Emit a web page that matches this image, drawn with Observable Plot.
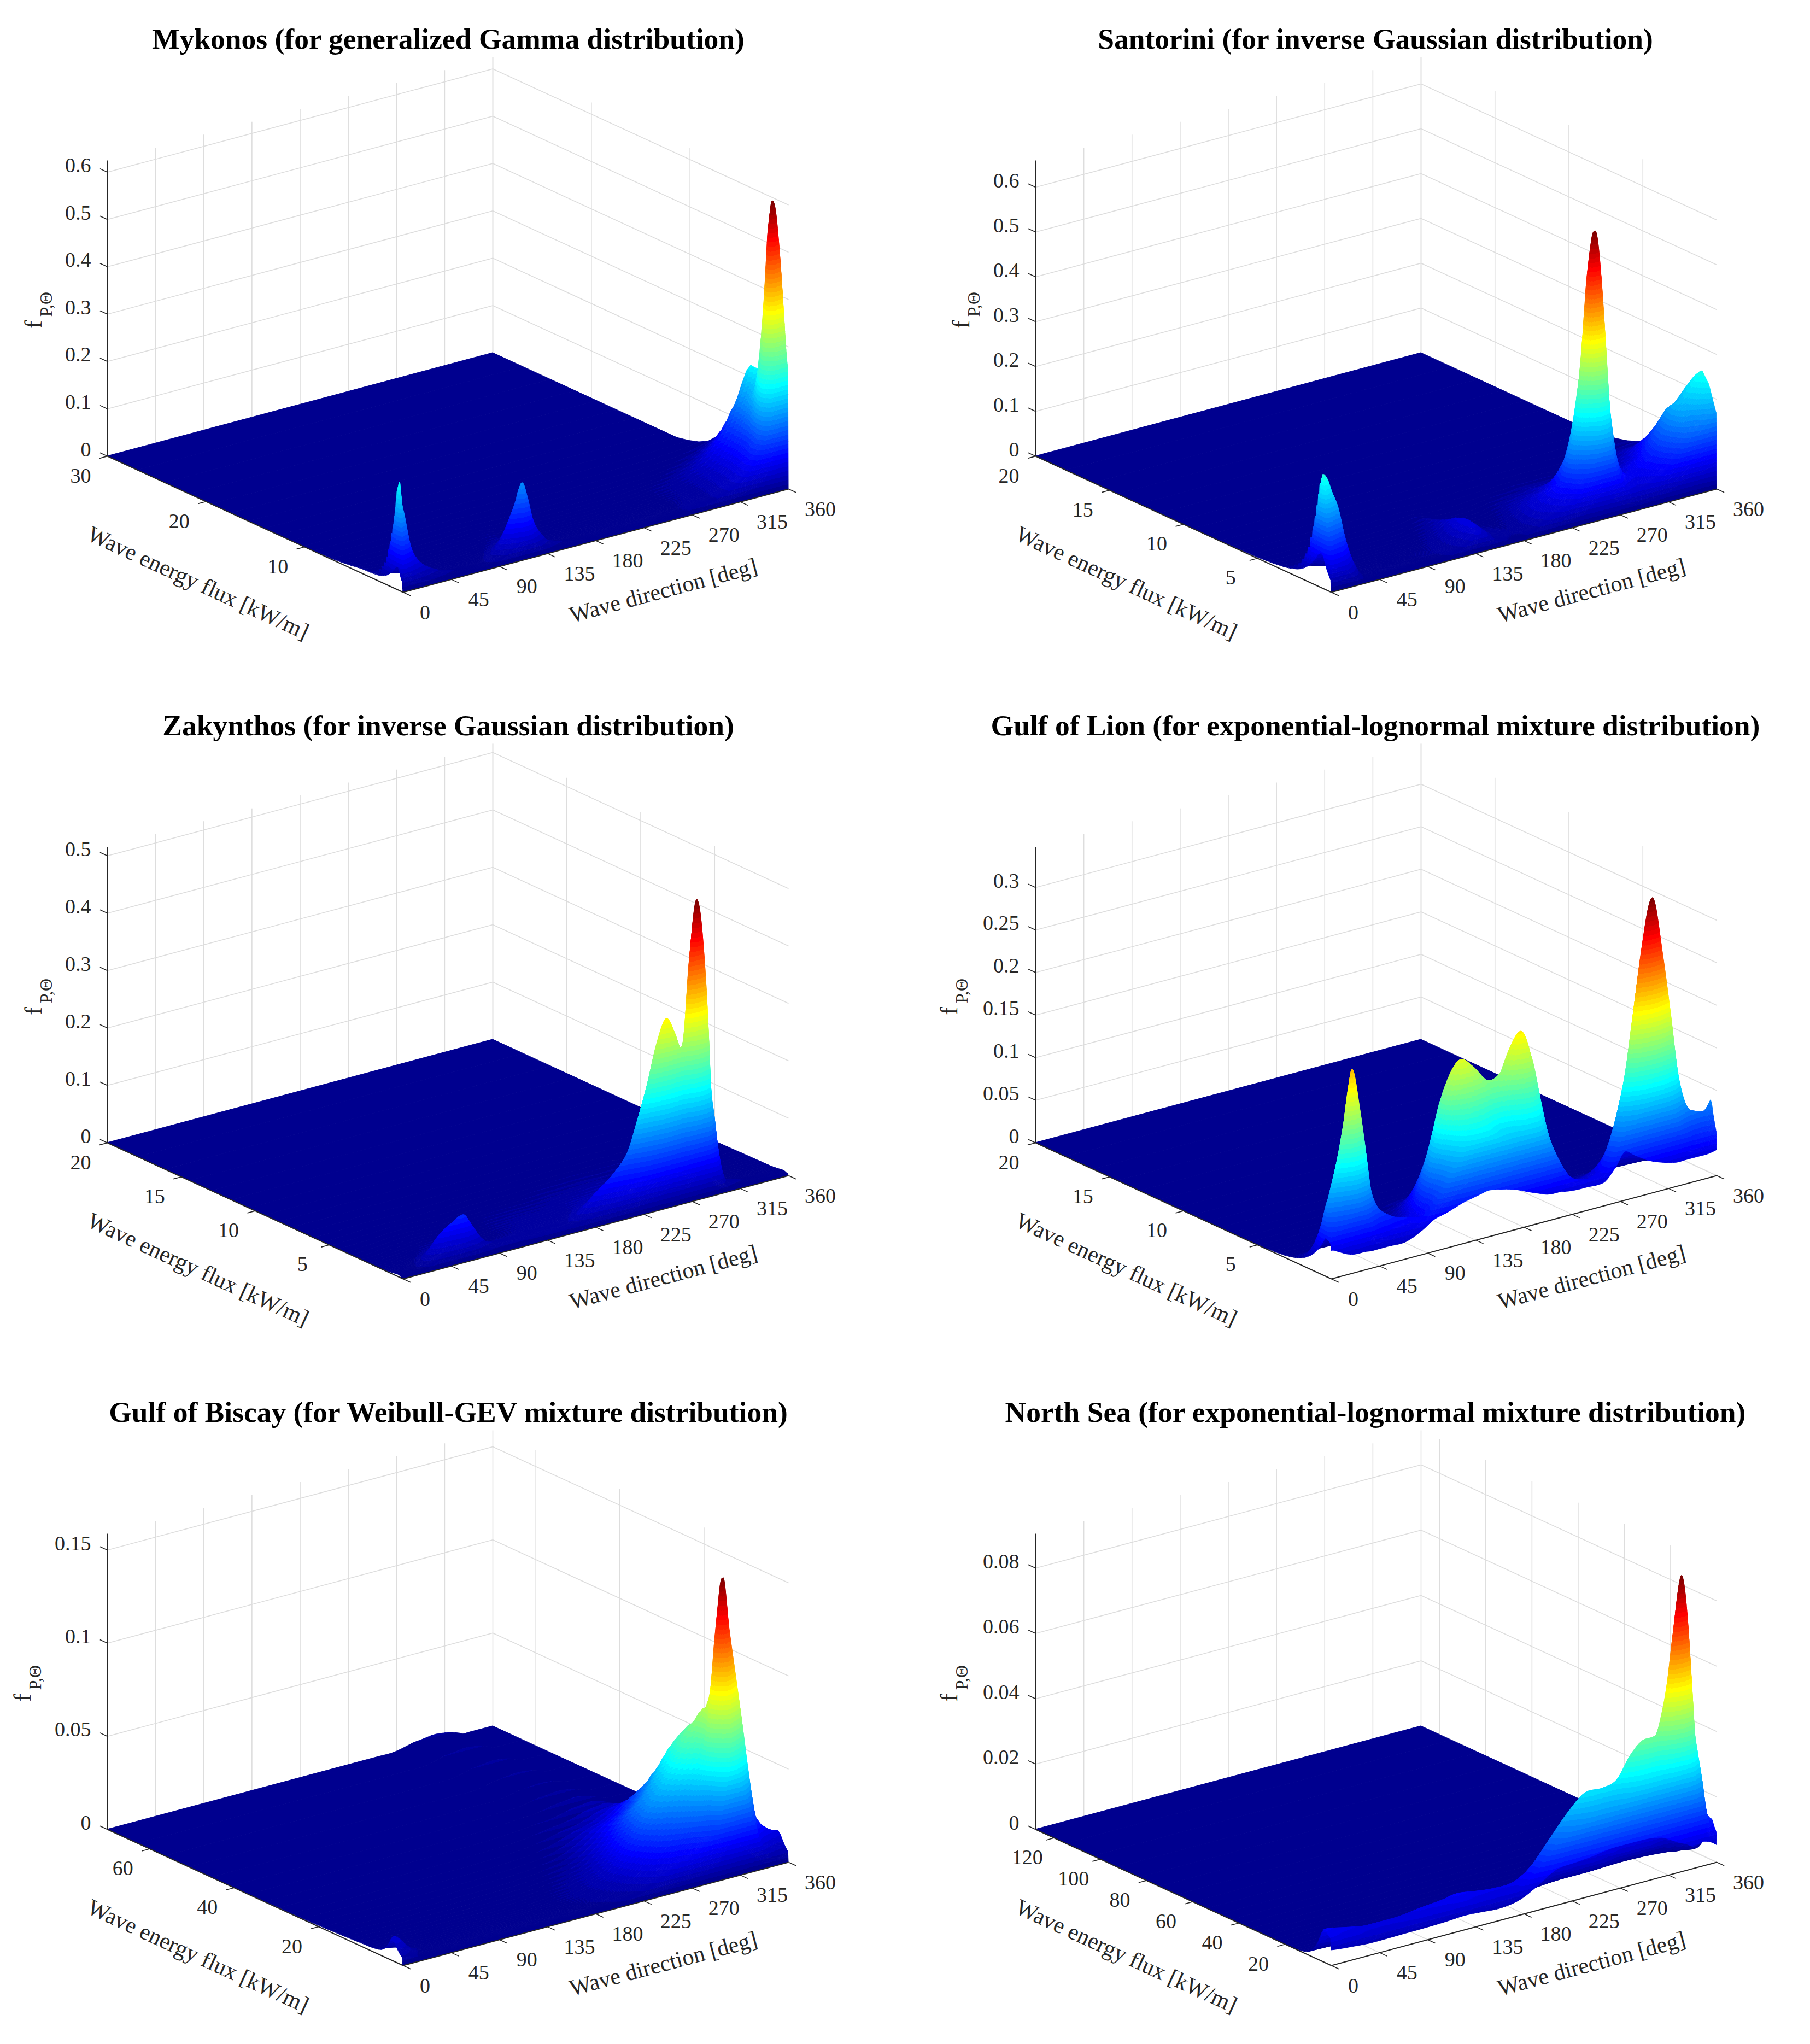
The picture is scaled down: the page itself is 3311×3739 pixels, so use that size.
<!DOCTYPE html>
<html><head><meta charset="utf-8">
<script src="https://cdn.jsdelivr.net/npm/d3@7"></script>
<script src="https://cdn.jsdelivr.net/npm/@observablehq/plot@0.6"></script>
<style>
html,body{margin:0;padding:0;background:#fff}
#page{position:relative;width:3311px;height:3739px;overflow:hidden;background:#fff}
.panel{position:absolute;width:1655px;height:1227px}
.panel h2{position:absolute;margin:0;top:38px;transform:translateX(-50%);white-space:nowrap;z-index:2;
 font:bold 53.5px/66px "Liberation Serif",serif;color:#000}
</style></head><body><div id="page"></div>
<script>
// ---- tick values
const directionTicks=[0,45,90,135,180,225,270,315,360];
// ---- Mykonos
const mykonosDirs=[0,1.5,3,6,11,19,32,45,60,80,90,98,106,112,116,121,125,130,135,140,150,170,200,230,250,270,285,295,305,315,325,332,338,341,345,347.5,350,352.5,355,357.5,360];
const mykonosNear=[.04,.22,.185,.15,.09,.05,.025,.012,.006,.006,.02,.045,.084,.119,.149,.113,.073,.045,.03,.018,.01,.004,.002,.002,.002,.002,.002,.002,.003,.005,.01,.02,.05,.15,.3,.45,.47,.44,.37,.28,.155];
const mykonosMid=[.01,.01,.008,.006,.004,.002,.001,.001,.001,.002,.004,.006,.008,.01,.01,.01,.008,.006,.004,.002,.001,.001,.001,.002,.004,.01,.015,.02,.03,.04,.06,.08,.1,.11,.13,.145,.16,.17,.185,.2,.225];
// ---- Santorini
const santoriniDirs=[0,1.5,5,9,15.6,20,30,37,50,70,90,110,126,133,139,146,158,175,190,202,219,230,234,237.7,241.6,247,249.7,255.2,260.5,263.5,266.8,270,274,282,290,301,315,326,334,343,352,360];
const santoriniNear=[.06,.238,.23,.205,.16,.11,.03,.005,.002,.002,.002,.002,.002,.002,.002,.002,.002,.002,.002,.002,.01,.05,.09,.13,.22,.36,.48,.57,.47,.35,.2,.12,.06,.02,.005,0,0,0,0,0,0,0];
const santoriniMid=[.02,.02,.015,.01,.008,.005,.004,.003,.004,.006,.008,.012,.03,.045,.058,.045,.018,.01,.02,.04,.06,.07,.08,.08,.08,.08,.08,.08,.08,.08,.08,.08,.07,.06,.06,.072,.098,.145,.186,.2,.227,.25];
// ---- Zakynthos
const zakynthosDirs=[0,10,20,30,38.6,50,61,68,76,85,100,120,140,160,188.6,204,217,225,232.6,241.6,251,258,264,269,273,279,285,289,291,295,298,302,307,320,340,360];
const zakynthosNear=[.004,.005,.01,.03,.05,.065,.074,.055,.03,.015,.01,.008,.008,.01,.05,.075,.11,.16,.21,.28,.318,.29,.26,.31,.43,.516,.425,.295,.2,.125,.075,.03,.01,.006,.004,.004];
const zakynthosMid=[0,0,.002,.004,.006,.008,.008,.006,.005,.004,.006,.01,.012,.012,.017,.018,.02,.02,.02,.018,.02,.02,.02,.02,.016,.016,.018,.018,.015,.014,.01,.009,.007,.004,.002,.002];
// ---- Gulf of Lion
const lionDirs=[0,1,6,14.8,19.3,25,32.4,36.9,42.8,53,70.5,85,96,108,117,124,131.5,138.6,149,163.6,175.4,184,193.6,201.7,207.4,213,222,231,238,254.5,265,275.6,283,289,295,305.6,315.5,322.3,330,341.7,352,360];
const lionNear=[.02,.05,.08,.135,.17,.218,.168,.127,.068,.04,.025,.01,.005,.005,.005,.005,.005,.005,.005,.005,.005,.005,.005,.005,.005,.005,.005,.005,.005,.01,.03,.07,.125,.19,.25,.315,.245,.18,.1,.055,.05,.06];
const lionMid=[.01,.01,.01,.008,.008,.008,.008,.008,.01,.012,.015,.025,.036,.081,.131,.171,.191,.196,.1835,.1625,.17,.197,.212,.187,.146,.105,.052,.027,.021,.019,.02,.02,.015,.012,.012,.012,.012,.012,.012,.015,.015,.015];
const lionEdge=[.033,.033,.03,.024,.022,.021,.021,.02,.02,.02,.02,.028,.037,.041,.045,.048,.05,.052,.054,.05,.045,.04,.035,.031,.03,.03,.028,.027,.027,.027,.04,.057,.05,.045,.04,.034,.03,.028,.028,.028,.028,.03];
// ---- Gulf of Biscay
const biscayDirs=[0,1.5,6,12,20,40,80,120,160,200,220,238,253,267,282,285,292,298,303.5,308.6,314.3,319.6,324.7,329,333,336.7,341.7,348.4,355,360];
const biscayNear=[.01,.012,.01,.006,.002,.0005,.0005,.0005,.0005,.001,.002,.003,.004,.005,.008,.01,.018,.05,.095,.122,.098,.085,.07,.053,.038,.026,.02,.016,.014,.013];
const biscayMid=[.002,.002,.002,.002,.002,.001,.001,.001,.002,.006,.012,.025,.04,.05,.066,.07,.075,.078,.08,.075,.065,.045,.03,.02,.012,.007,.005,.004,.003,.003];
const biscayFar=[0,0,0,0,0,0,0,0,0,0,0,0,0,0,.002,.0025,.003,.0035,.004,.004,.0035,.003,.002,.001,0,0,0,0,0,0];
// ---- North Sea
const northDirs=[0,4,20,35.6,50,67,93,110,124,140,158,179,192,210,228,245,259.6,273,285.7,296,309,314.7,320,325,331.7,338,341,344,346,350,355,360];
const northNear=[0,0,0,0,0,0,0,0,0,0,0,0,0,0,0,0,0,0,0,0,.002,.011,.024,.044,.065,.055,.041,.027,.024,.017,.006,.005];
const northMid=[.009,.009,.008,.0071,.007,.007,.008,.0085,.0092,.0085,.0079,.0082,.0105,.0166,.0235,.028,.0276,.029,.0355,.0389,.038,.036,.034,.03,.025,.018,.015,.012,.01,.008,.007,.006];
const northEdge=[.0047,.0045,.004,.0036,.0036,.0037,.0038,.004,.0043,.004,.0036,.0049,.0072,.0108,.0115,.012,.0128,.0129,.0129,.0128,.012,.011,.01,.009,.008,.0067,.0068,.007,.0072,.0072,.0065,.0053];
// ---- profile of a ridge across the flux axis
const tailAt=[0,.4,.8,1.2,1.6,2,2.6,3.2,4,5];
const tailValue=[1,.9,.68,.5,.36,.24,.13,.07,.03,0];

const panels=[
 {title:"Mykonos (for generalized Gamma distribution)",col:0,row:0,pmax:30,zUnit:866,zTicks:[0,.1,.2,.3,.4,.5,.6],fluxTicks:[10,20,30],labelX:72,
  dirs:mykonosDirs,near:mykonosNear,mid:mykonosMid,nearP:[.5,.25,.6],midP:[3.8,10,1.5]},
 {title:"Santorini (for inverse Gaussian distribution)",col:1,row:0,pmax:20,zUnit:820,zTicks:[0,.1,.2,.3,.4,.5,.6],fluxTicks:[5,10,15,20],labelX:113,
  dirs:santoriniDirs,near:santoriniNear,mid:santoriniMid,nearP:[.64,.3,.5],midP:[1,1.2,1.5]},
 {title:"Zakynthos (for inverse Gaussian distribution)",col:0,row:1,pmax:20,zUnit:1050,zTicks:[0,.1,.2,.3,.4,.5],fluxTicks:[5,10,15,20],labelX:72,
  dirs:zakynthosDirs,near:zakynthosNear,mid:zakynthosMid,nearP:[.3,.15,.4],midP:[2,1.5,2]},
 {title:"Gulf of Lion (for exponential-lognormal mixture distribution)",col:1,row:1,pmax:20,zUnit:1557,zTicks:[0,.05,.1,.15,.2,.25,.3],fluxTicks:[5,10,15,20],labelX:91,
  dirs:lionDirs,near:lionNear,mid:lionMid,edge:lionEdge,nearP:[.4,.2,.5],midP:[1.2,.7,1],edgeFall:.4},
 {title:"Gulf of Biscay (for Weibull-GEV mixture distribution)",col:0,row:2,pmax:70,zUnit:3407,zTicks:[0,.05,.1,.15],fluxTicks:[20,40,60],labelX:52,
  dirs:biscayDirs,near:biscayNear,mid:biscayMid,far:biscayFar,nearP:[2.5,1.5,1],midP:[6,3,8],farP:[60,20,30]},
 {title:"North Sea (for exponential-lognormal mixture distribution)",col:1,row:2,pmax:128,zUnit:5975,zTicks:[0,.02,.04,.06,.08],fluxTicks:[20,40,60,80,100,120],labelX:91,
  dirs:northDirs,near:northNear,mid:northMid,edge:northEdge,nearP:[2,1,2],midP:[3,2,2.5],edgeFall:1.5}
];

// ---- view of the box (orthographic), in page pixels of a panel
const W=1655,H=1227,FY=1083,DX=705,DY=189,PX=541,PY=249,BOX=541;
const FONT='"Liberation Serif",serif',INK="#262626",GRID="#dddddd";
const tail=d3.scaleLinear(tailAt,tailValue).clamp(true);
const jet=i=>{const t=(i+1)/64,c=v=>Math.round(255*Math.max(0,Math.min(1,v)));
 return `rgb(${c(1.5-Math.abs(4*t-3))},${c(1.5-Math.abs(4*t-2))},${c(1.5-Math.abs(4*t-1))})`;};

function draw(P,k){
 const FX=P.col?779:737, pm=P.pmax, Z=P.zUnit;
 const X=(d,p)=>FX+DX*d/360-PX*p/pm;
 const Y=(d,p,z=0)=>FY-DY*d/360-PY*p/pm-Z*z;
 const ridge=(v,[r,a,b],p)=>v*tail(p<r?(r-p)/a:(p-r)/b);
 const surf=(i,p)=>{const f=Math.min(1,p/(pm*.0012));
  return f*(ridge(P.near[i],P.nearP,p)+ridge(P.mid[i],P.midP,p)+(P.far?ridge(P.far[i],P.farP,p):0))+(P.edge?P.edge[i]*tail(p/P.edgeFall):0);};
 // flux rows of the mesh, far to near, closer together at low flux
 const rows=[];const N=72,first=pm*.0004,ratio=Math.pow(1/.0004,1/N);
 for(let j=N;j>=0;j--)rows.push(first*Math.pow(ratio,j));
 rows.push(0);
 const mesh=rows.map(p=>P.dirs.map((d,i)=>({d,p,z:surf(i,p)})));
 const zMax=d3.max(mesh.flat(),c=>c.z);
 const hMax=Z*zMax,nx=-DY/Math.hypot(DX,DY),ny=-DX/Math.hypot(DX,DY);
 // grid
 const zTop=BOX/Z,seg=[];
 for(const t of P.zTicks){seg.push({x1:X(0,pm),y1:Y(0,pm,t),x2:X(360,pm),y2:Y(360,pm,t)});
  seg.push({x1:X(360,pm),y1:Y(360,pm,t),x2:X(360,0),y2:Y(360,0,t)});}
 for(const d of directionTicks){if(d>0)seg.push({x1:X(d,pm),y1:Y(d,pm),x2:X(d,pm),y2:Y(d,pm,zTop)});
  seg.push({x1:X(d,0),y1:Y(d,0),x2:X(d,pm),y2:Y(d,pm)});}
 for(const p of P.fluxTicks){seg.push({x1:X(360,p),y1:Y(360,p),x2:X(360,p),y2:Y(360,p,zTop)});
  seg.push({x1:X(0,p),y1:Y(0,p),x2:X(360,p),y2:Y(360,p)});}
 // strips of the surface and a banded gradient per strip, tilted with the floor;
 // the gradient starts on the far edge of the strip so a flat strip stays in the first band
 const defs=()=>{const g=d3.create("svg:defs");
  const base=g.append("linearGradient").attr("id",`jet${k}`);
  for(let i=0;i<64;i++){base.append("stop").attr("offset",i/64).attr("stop-color",jet(i));
   base.append("stop").attr("offset",(i+1)/64).attr("stop-color",jet(i));}
  for(let j=0;j<rows.length-1;j++){const x=X(0,rows[j]),y=Y(0,rows[j]),L=hMax*(-ny);
   g.append("linearGradient").attr("id",`s${k}_${j}`).attr("href",`#jet${k}`).attr("gradientUnits","userSpaceOnUse")
    .attr("x1",x).attr("y1",y).attr("x2",x+nx*L).attr("y2",y+ny*L);}
  return g.node();};
 const strips=[];
 for(let j=0;j<rows.length-1;j++){
  const data=P.dirs.map((d,i)=>({x1:X(d,rows[j]),y1:Y(d,rows[j],mesh[j][i].z),x2:X(d,rows[j+1]),y2:Y(d,rows[j+1],mesh[j+1][i].z)}));
  const u=`url(#s${k}_${j})`;
  strips.push(Plot.area(data,{x1:"x1",y1:"y1",x2:"x2",y2:"y2",fill:u,stroke:u,strokeWidth:1,curve:"monotone-x"}));
 }
 // axes
 const axisLines=[{x1:X(0,pm),y1:Y(0,pm),x2:X(0,0),y2:Y(0,0)},{x1:X(0,0),y1:Y(0,0),x2:X(360,0),y2:Y(360,0)},
  {x1:X(0,pm),y1:Y(0,pm),x2:X(0,pm),y2:Y(0,pm,zTop)}];
 const tl=15,dn=Math.hypot(DX,DY),pn=Math.hypot(PX,PY);
 const ticks=[
  ...directionTicks.map(d=>({x1:X(d,0),y1:Y(d,0),x2:X(d,0)+tl*PX/pn,y2:Y(d,0)+tl*PY/pn})),
  ...P.fluxTicks.map(p=>({x1:X(0,p),y1:Y(0,p),x2:X(0,p)-tl*DX/dn,y2:Y(0,p)+tl*DY/dn})),
  ...P.zTicks.map(t=>({x1:X(0,pm),y1:Y(0,pm,t),x2:X(0,pm)-tl*PX/pn,y2:Y(0,pm,t)-tl*PY/pn}))];
 const dirLabels=directionTicks.map(d=>({t:String(d),x:X(d,0)+(d<10?40:d<100?50:58),y:Y(d,0)+37}));
 const fluxLabels=P.fluxTicks.map(p=>({t:String(p),x:X(0,p)-49,y:Y(0,p)+36}));
 const zLabels=P.zTicks.map(t=>({t:String(t),x:X(0,pm)-30,y:Y(0,pm,t)-12}));
 const text={fontFamily:FONT,fill:INK,lineAnchor:"middle"};
 const link=(d,o)=>Plot.link(d,{x1:"x1",y1:"y1",x2:"x2",y2:"y2",...o});
 const svg=Plot.plot({width:W,height:H,margin:0,axis:null,
  x:{domain:[0,W],range:[0,W]},y:{domain:[0,H],range:[0,H]},
  style:{background:"#fff"},
  marks:[defs,
   link(seg,{stroke:GRID,strokeWidth:1.6}),
   ...strips,
   link(axisLines,{stroke:INK,strokeWidth:2}),
   link(ticks,{stroke:INK,strokeWidth:1.6}),
   Plot.text(dirLabels,{x:"x",y:"y",text:"t",fontSize:38,...text}),
   Plot.text(fluxLabels,{x:"x",y:"y",text:"t",fontSize:38,...text}),
   Plot.text(zLabels,{x:"x",y:"y",text:"t",fontSize:38,textAnchor:"end",...text}),
   Plot.text(["Wave direction [deg]"],{x:()=>FX+476,y:()=>FY-3,text:d=>d,fontSize:42,rotate:-15,...text}),
   Plot.text(["Wave energy flux [kW/m]"],{x:()=>FX-375,y:()=>FY-17,text:d=>d,fontSize:42,rotate:24.7,...text}),
   Plot.text(["f"],{x:()=>P.labelX-11,y:()=>593,text:d=>d,fontSize:44,rotate:-90,...text}),
   Plot.text(["P,Θ"],{x:()=>P.labelX+12,y:()=>556,text:d=>d,fontSize:32,rotate:-90,...text})
  ]});
 const box=document.createElement("div");box.className="panel";
 box.style.left=P.col*1656+"px";box.style.top=P.row*1256+"px";
 const h=document.createElement("h2");h.textContent=P.title;h.style.left=(P.col?860:820)+"px";
 box.append(svg,h);document.getElementById("page").append(box);
}
panels.forEach(draw);
</script></body></html>
